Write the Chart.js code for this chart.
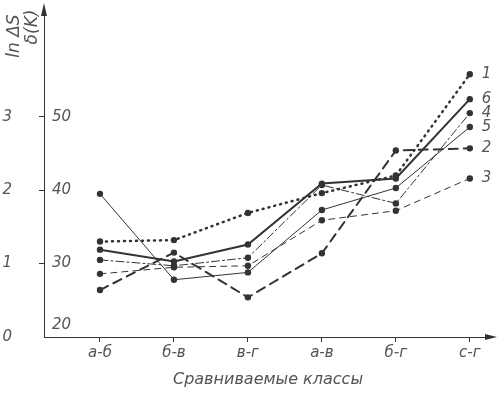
<!DOCTYPE html>
<html>
<head>
<meta charset="utf-8">
<script src="https://cdn.jsdelivr.net/npm/chart.js@4.4.1/dist/chart.umd.min.js"></script>
<style>
html,body{margin:0;padding:0;background:#fff;}
</style>
</head>
<body>
<canvas id="c" width="498" height="399"></canvas>
<script>
// ==================== Data ====================
const classes=["а-б","б-в","в-г","а-в","б-г","с-г"];
const seriesNames=["1","2","3","4","5","6"];
// δ(K) values (lnΔS = (δ-20)/10)
const s1=[33.0,33.2,36.9,39.6,42.0,55.8];
const s2=[26.4,31.5,25.4,31.4,45.4,45.7];
const s3=[28.6,29.5,29.7,35.9,37.2,41.6];
const s4=[30.5,29.7,30.8,40.7,38.2,50.5];
const s5=[39.5,27.8,28.8,37.3,40.3,48.6];
const s6=[31.9,30.3,32.6,40.9,41.6,52.4];
const deltaTicks=[20,30,40,50];
const lnTicks=[0,1,2,3];

// ==================== Styles ====================
const lineCol="#333";
const textCol="#555";
const labelFont={family:"DejaVu Sans",size:15,style:"italic"};

const styles=[
  {w:2.5,dash:[1,5]},      // 1 dotted
  {w:2,dash:[9,6]},        // 2 heavy dashed
  {w:1,dash:[6,5]},        // 3 thin dashed
  {w:1,dash:[8,3,2,3]},    // 4 dash-dot
  {w:1,dash:[]},           // 5 thin solid
  {w:2,dash:[]}            // 6 thick solid
];
const allSeries=[s1,s2,s3,s4,s5,s6];

const datasets=allSeries.map((s,i)=>({
  label:seriesNames[i],
  data:s.map((v,j)=>({x:j,y:v})),
  borderColor:lineCol,
  backgroundColor:lineCol,
  borderWidth:styles[i].w,
  borderDash:styles[i].dash,
  borderCapStyle:"round",
  pointRadius:3.2,
  pointBorderWidth:0,
  tension:0
}));

// no extra padding from the scales, the layout is set by hand
const noPad=s=>{s.paddingTop=0;s.paddingBottom=0;s.paddingLeft=0;s.paddingRight=0;};

// ==================== Extras: arrows, titles, series numbers ====================
const extras={
  id:"extras",
  afterDatasetsDraw(chart){
    const {ctx}=chart;
    ctx.save();
    ctx.fillStyle=textCol;
    ctx.font="italic 15px 'DejaVu Sans'";
    ctx.textBaseline="middle";
    chart.data.datasets.forEach((ds,i)=>{
      const pts=chart.getDatasetMeta(i).data;
      const p=pts[pts.length-1];
      ctx.fillText(ds.label,p.x+12,p.y);
    });
    ctx.restore();
  },
  afterDraw(chart){
    const {ctx,chartArea:a,scales:{y}}=chart;
    ctx.save();
    ctx.strokeStyle=lineCol; ctx.fillStyle=lineCol; ctx.lineWidth=1;
    // y arrow
    ctx.beginPath(); ctx.moveTo(a.left,a.top); ctx.lineTo(a.left,8); ctx.stroke();
    ctx.beginPath(); ctx.moveTo(a.left,3); ctx.lineTo(a.left-3,16); ctx.lineTo(a.left+3,16); ctx.closePath(); ctx.fill();
    // x arrow
    ctx.beginPath(); ctx.moveTo(497,a.bottom); ctx.lineTo(485,a.bottom-3); ctx.lineTo(485,a.bottom+3); ctx.closePath(); ctx.fill();
    // "20" sits above the x axis
    ctx.fillStyle=textCol;
    ctx.font="italic 15px 'DejaVu Sans'";
    ctx.textBaseline="middle";
    ctx.fillText("20",a.left+8,y.getPixelForValue(20)-12);
    // axis titles
    ctx.font="italic 17px 'DejaVu Sans'";
    ctx.textAlign="center";
    ctx.translate(15,36); ctx.rotate(-Math.PI/2);
    ctx.fillText("ln ΔS",0,0);
    ctx.setTransform(1,0,0,1,0,0);
    ctx.translate(33,27); ctx.rotate(-Math.PI/2);
    ctx.fillText("δ(K)",0,0);
    ctx.restore();
  }
};

// ==================== Chart ====================
new Chart(document.getElementById("c"),{
  type:"line",
  data:{datasets},
  options:{
    responsive:false,
    animation:false,
    layout:{padding:{top:14,right:6,left:0,bottom:0}},
    plugins:{legend:{display:false},tooltip:{enabled:false}},
    scales:{
      x:{
        type:"linear",min:-0.757,max:5.3,
        afterBuildTicks:s=>{s.ticks=classes.map((c,i)=>({value:i}));},
        afterFit:s=>{s.height=62;noPad(s);},
        ticks:{callback:v=>classes[v]??"",color:textCol,font:labelFont,padding:2,maxRotation:0},
        grid:{drawOnChartArea:false,tickLength:5,color:lineCol},
        border:{color:lineCol,width:1},
        title:{display:true,text:"Сравниваемые классы",color:textCol,font:{family:"DejaVu Sans",size:16,style:"italic"},padding:{top:0,bottom:10}}
      },
      y:{
        position:"left",weight:0,min:20,max:64,
        afterBuildTicks:s=>{s.ticks=deltaTicks.map(v=>({value:v}));},
        afterFit:s=>{s.width=6;noPad(s);},
        ticks:{mirror:true,padding:8,color:textCol,font:labelFont,callback:v=>v===20?"":v},
        grid:{drawOnChartArea:false,tickLength:5,color:c=>c.tick&&c.tick.value===20?"rgba(0,0,0,0)":lineCol},
        border:{color:lineCol,width:1}
      },
      y2:{
        position:"left",weight:1,min:0,max:4.4,
        afterBuildTicks:s=>{s.ticks=lnTicks.map(v=>({value:v}));},
        afterFit:s=>{s.width=38;noPad(s);},
        ticks:{padding:18,color:textCol,font:labelFont},
        grid:{display:false},
        border:{display:false}
      }
    }
  },
  plugins:[extras]
});
</script>
</body>
</html>
